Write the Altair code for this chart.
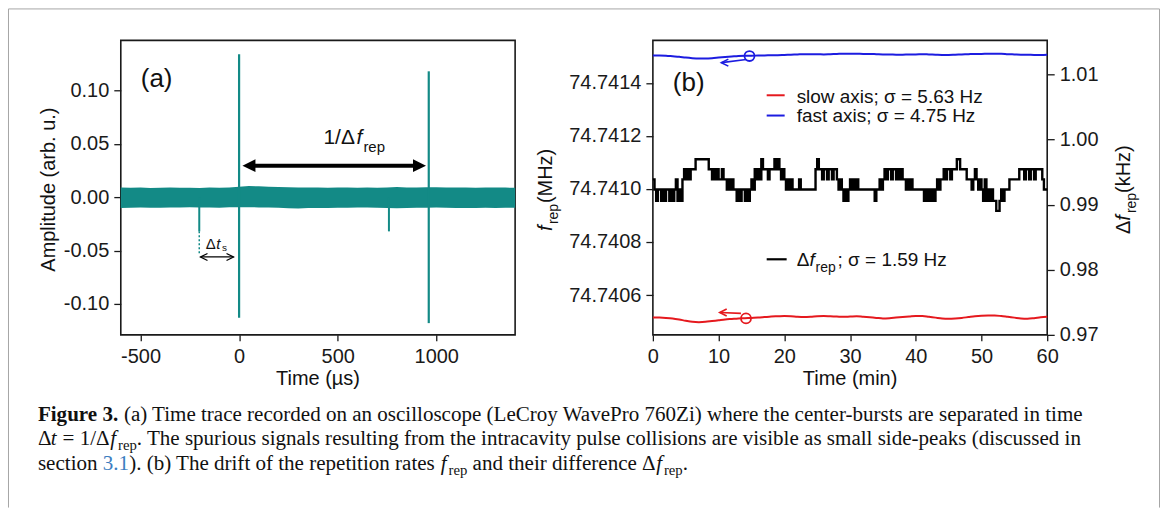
import altair as alt
import pandas as pd

# ---------------- panel (a): oscilloscope time trace ----------------
band_us = list(range(-600, 1401, 50))
band_upper = [0.0090, 0.0088, 0.0090, 0.0087, 0.0089, 0.0090, 0.0088, 0.0089, 0.0086, 0.0090,
              0.0089, 0.0091, 0.0098, 0.0105, 0.0102, 0.0097, 0.0095, 0.0093, 0.0090, 0.0092,
              0.0090, 0.0089, 0.0091, 0.0090, 0.0089, 0.0090, 0.0088, 0.0091, 0.0095, 0.0092,
              0.0090, 0.0093, 0.0094, 0.0092, 0.0090, 0.0091, 0.0089, 0.0090, 0.0091, 0.0090,
              0.0089]
band_lower = [-0.0100, -0.0098, -0.0097, -0.0099, -0.0098, -0.0097, -0.0096, -0.0095, -0.0097, -0.0096,
              -0.0098, -0.0095, -0.0094, -0.0093, -0.0096, -0.0097, -0.0099, -0.0104, -0.0106, -0.0102,
              -0.0100, -0.0101, -0.0099, -0.0098, -0.0097, -0.0096, -0.0099, -0.0101, -0.0103, -0.0100,
              -0.0099, -0.0098, -0.0097, -0.0098, -0.0100, -0.0102, -0.0101, -0.0099, -0.0100, -0.0098,
              -0.0099]
burst_us = [0, 962]
burst_high = [0.134, 0.118]
burst_low = [-0.113, -0.118]
side_us = [-202, 760]
side_low = [-0.032, -0.032]

xa_ticks = [-500, 0, 500, 1000]
ya_ticks = [-0.10, -0.05, 0.00, 0.05, 0.10]

# ---------------- panel (b): drift of repetition rates ----------------
minutes = list(range(0, 61))
fast_axis_mhz = [74.741503, 74.741503, 74.741502, 74.741500, 74.741498, 74.741495, 74.741493, 74.741492, 74.741492, 74.741493,
                 74.741495, 74.741497, 74.741499, 74.741501, 74.741502, 74.741502, 74.741503, 74.741503, 74.741504, 74.741504,
                 74.741505, 74.741506, 74.741507, 74.741508, 74.741508, 74.741508, 74.741507, 74.741508, 74.741509, 74.741510,
                 74.741510, 74.741510, 74.741509, 74.741509, 74.741508, 74.741507, 74.741507, 74.741506, 74.741506, 74.741507,
                 74.741507, 74.741508, 74.741507, 74.741506, 74.741505, 74.741505, 74.741506, 74.741507, 74.741508, 74.741509,
                 74.741509, 74.741510, 74.741510, 74.741510, 74.741508, 74.741507, 74.741506, 74.741506, 74.741505, 74.741505,
                 74.741506]
slow_axis_mhz = [74.740515, 74.740515, 74.740514, 74.740512, 74.740508, 74.740503, 74.740499, 74.740498, 74.740499, 74.740502,
                 74.740505, 74.740508, 74.740510, 74.740512, 74.740513, 74.740514, 74.740515, 74.740517, 74.740519, 74.740520,
                 74.740521, 74.740520, 74.740518, 74.740517, 74.740518, 74.740520, 74.740521, 74.740520, 74.740519, 74.740518,
                 74.740519, 74.740520, 74.740518, 74.740516, 74.740514, 74.740512, 74.740513, 74.740515, 74.740517, 74.740519,
                 74.740521, 74.740521, 74.740518, 74.740515, 74.740512, 74.740511, 74.740512, 74.740514, 74.740517, 74.740520,
                 74.740522, 74.740523, 74.740523, 74.740521, 74.740518, 74.740515, 74.740512, 74.740511, 74.740513, 74.740516,
                 74.740518]
# quantised Δf_rep readings (kHz), one level index every quarter minute
dfrep_levels_khz = [0.98905, 0.99060, 0.99235, 0.99390, 0.99545, 0.99700]
dfrep_level_idx = [
    3, 2, 1, 2,  2, 1, 2, 1,  2, 2, 1, 2,  1, 2, 3, 1,  2, 1, 3, 4,
    3, 4, 3, 4,  4, 4, 5, 5,  5, 5, 5, 5,  5, 5, 4, 4,  3, 4, 3, 4,
    3, 3, 4, 3,  3, 2, 3, 2,  3, 2, 2, 1,  2, 1, 2, 2,  1, 2, 1, 2,
    3, 2, 4, 3,  4, 3, 5, 4,  4, 4, 3, 4,  4, 4, 5, 4,  5, 4, 3, 4,
    3, 2, 3, 2,  3, 2, 2, 2,  2, 3, 2, 2,  2, 2, 2, 2,  2, 2, 2, 4,
    5, 4, 4, 3,  4, 4, 3, 4,  4, 3, 4, 4,  3, 2, 3, 2,  1, 2, 1, 2,
    3, 2, 3, 2,  3, 2, 2, 2,  2, 2, 2, 2,  2, 2, 2, 1,  2, 2, 3, 2,
    3, 4, 3, 4,  4, 3, 4, 4,  3, 4, 3, 4,  3, 3, 2, 3,  2, 3, 2, 2,
    2, 2, 2, 2,  2, 1, 2, 1,  2, 1, 2, 1,  2, 3, 2, 3,  3, 4, 3, 4,
    4, 3, 4, 4,  4, 5, 5, 4,  4, 4, 4, 3,  3, 3, 2, 3,  4, 3, 2, 3,
    2, 1, 3, 1,  2, 1, 2, 1,  1, 0, 0, 1,  2, 1, 2, 2,  2, 3, 3, 3,
    3, 3, 3, 4,  4, 4, 3, 4,  4, 3, 4, 4,  3, 4, 4, 4,  4, 3, 2, 2,
    2]
dfrep_minutes = [i * 0.25 for i in range(len(dfrep_level_idx))]

xb_ticks = [0, 10, 20, 30, 40, 50, 60]
yb_left_ticks = [74.7406, 74.7408, 74.7410, 74.7412, 74.7414]
yb_right_ticks = [0.97, 0.98, 0.99, 1.00, 1.01]

# ---------------- styling ----------------
SANS = "Liberation Sans"
SERIF = "Liberation Serif"
TEAL = "#138a86"
BLUE = "#1c1ce0"
RED = "#e5191e"
INK = "#111111"
W, H = 395, 295
one = pd.DataFrame({"k": [0]})


def txt(text, x, y, size=20, font=SANS, align="left", baseline="alphabetic", color=INK, **kw):
    return alt.Chart(one).mark_text(text=text, font=font, fontSize=size, align=align,
                                    baseline=baseline, color=color, **kw).encode(
        x=alt.value(x), y=alt.value(y))


def vrule(x, y, y2, color, width=1.0, **kw):
    return alt.Chart(one).mark_rule(color=color, strokeWidth=width, **kw).encode(
        x=alt.value(x), y=alt.value(y), y2=alt.value(y2))


def hrule(x, x2, y, color, width=1.0, **kw):
    return alt.Chart(one).mark_rule(color=color, strokeWidth=width, **kw).encode(
        x=alt.value(x), x2=alt.value(x2), y=alt.value(y))


MINUS = "replace(format(datum.value, '{f}'), '\u2212', '-')"

XA = alt.Scale(domain=[-600, 1400], nice=False, zero=False)
YA = alt.Scale(domain=[-0.129, 0.147], nice=False, zero=False)
AX_AX = alt.Axis(values=xa_ticks, title="", labelExpr=MINUS.format(f="d"))
AX_AY = alt.Axis(values=ya_ticks, title="", labelExpr=MINUS.format(f=".2f"))

df_band = pd.DataFrame({"us": band_us, "upper": band_upper, "lower": band_lower})
df_burst = pd.DataFrame({"us": burst_us, "high": burst_high, "low": burst_low})
df_side = pd.DataFrame({"us": side_us, "low": side_low})


def xa(v):
    return alt.XDatum(v, scale=XA, axis=AX_AX)


def ya(v):
    return alt.YDatum(v, scale=YA, axis=AX_AY)


band = alt.Chart(df_band).mark_area(color=TEAL, opacity=1).encode(
    x=alt.X("us:Q", scale=XA, axis=AX_AX),
    y=alt.Y("upper:Q", scale=YA, axis=AX_AY),
    y2="lower:Q")
bursts = alt.Chart(df_burst).mark_rule(color=TEAL, strokeWidth=2.2).encode(
    x=alt.X("us:Q", scale=XA, axis=AX_AX), y=alt.Y("high:Q", scale=YA, axis=AX_AY), y2="low:Q")
sides = alt.Chart(df_side).mark_rule(color=TEAL, strokeWidth=2.0).encode(
    x=alt.X("us:Q", scale=XA, axis=AX_AX), y=alt.Y("low:Q", scale=YA, axis=AX_AY), y2=alt.Y2Datum(0))
dashed = alt.Chart(one).mark_rule(color=TEAL, strokeWidth=1.5, strokeDash=[2, 2]).encode(
    x=xa(side_us[0]), y=ya(side_low[0]), y2=alt.Y2Datum(-0.053))

# small Δt_s double arrow
ts_shaft = alt.Chart(one).mark_rule(color="black", strokeWidth=1.3).encode(
    x=xa(-196), x2=alt.X2Datum(-28), y=ya(-0.056))
ts_left = alt.Chart(one).mark_point(shape="M1,-1L-1,0L1,1", filled=False, size=49, strokeWidth=1.3,
                                    color="black", opacity=1).encode(x=xa(-178), y=ya(-0.056))
ts_right = alt.Chart(one).mark_point(shape="M-1,-1L1,0L-1,1", filled=False, size=49, strokeWidth=1.3,
                                     color="black", opacity=1).encode(x=xa(-46), y=ya(-0.056))

# big 1/Δf_rep arrow
big_shaft = alt.Chart(one).mark_rule(color="black", strokeWidth=4).encode(
    x=xa(50), x2=alt.X2Datum(915), y=ya(0.0296))
big_left = alt.Chart(one).mark_point(shape="M-1,0L1,-1L1,1Z", filled=True, size=169,
                                     color="black", opacity=1).encode(x=xa(50), y=ya(0.0296))
big_right = alt.Chart(one).mark_point(shape="M1,0L-1,-1L-1,1Z", filled=True, size=169,
                                      color="black", opacity=1).encode(x=xa(915), y=ya(0.0296))

a_texts = [
    txt("(a)", 20, 47, size=26),
    txt("1/\u0394", 203, 104, size=21),
    txt("f", 236, 104, size=21, fontStyle="italic"),
    txt("rep", 243, 112, size=15),
    txt("\u0394", 85, 209, size=15),
    txt("t", 95.5, 209, size=15, fontStyle="italic"),
    txt("s", 101.5, 211, size=10),
    txt("Amplitude (arb. u.)", -72, 149.5, size=20, align="center", baseline="middle", angle=270),
    txt("Time (\u00b5s)", 197.5, 345, size=20, align="center"),
]

# ---------------- caption (absolute page positions, shifted to panel (a) origin) ----------------
OX, OY = 120, 39
TIMES = {" ": 250, "(": 333, ")": 333, ".": 250, ",": 250, "-": 333, "/": 278, "=": 564, ";": 278,
         "\u0394": 612}
for ch in "0123456789":
    TIMES[ch] = 500
TIMES.update(dict(zip("ABCDEFGHIJKLMNOPQRSTUVWXYZ",
                      [722, 667, 667, 722, 611, 556, 722, 722, 333, 389, 722, 611, 889, 722, 722, 556,
                       722, 667, 556, 611, 722, 722, 944, 722, 722, 611])))
TIMES.update(dict(zip("abcdefghijklmnopqrstuvwxyz",
                      [444, 500, 444, 500, 444, 333, 500, 500, 278, 278, 500, 278, 778, 500, 500, 500,
                       500, 333, 389, 278, 500, 500, 722, 500, 500, 444])))
TIMES_BOLD = {"F": 611, "i": 278, "g": 500, "u": 556, "r": 444, "e": 444, " ": 250, "3": 500, ".": 250}


def em(s, table=TIMES):
    return sum(table.get(c, 500) for c in s) / 1000


head = "Figure 3."
line1 = ("(a) Time trace recorded on an oscilloscope (LeCroy WavePro 760Zi) "
         "where the center-bursts are separated in time")
line2 = (". The spurious signals resulting from the intracavity pulse collisions are "
         "visible as small side-peaks (discussed in")
line3a = "). (b) The drift of the repetition rates"
line3b = "and their difference \u0394"
X0, XR = 37, 1088
BASE = [420, 444.5, 469]
FS = (XR - X0) / (em(head + " ", TIMES_BOLD) + em(line1))
SUB = 0.7 * FS
DROP = 5
F_ADV = 0.37

cap = []


def cpiece(text, x, y, **kw):
    cap.append(txt(text, x - OX, y - OY, font=SERIF, **kw))


cpiece(head, X0, BASE[0], size=FS, fontWeight="bold")
cpiece(line1, X0 + em(head + " ", TIMES_BOLD) * FS, BASE[0], size=FS)

x = X0
cpiece("\u0394", x, BASE[1], size=FS); x += em("\u0394") * FS
cpiece("t", x, BASE[1], size=FS, fontStyle="italic"); x += 0.278 * FS + 0.28 * FS
cpiece("= 1/\u0394", x, BASE[1], size=FS); x += em("= 1/\u0394") * FS + 0.06 * FS
cpiece("f", x, BASE[1], size=FS, fontStyle="italic"); x += F_ADV * FS
cpiece("rep", x, BASE[1] + DROP, size=SUB); x += em("rep") * SUB
cpiece(line2, x, BASE[1], size=FS)

x = X0
cpiece("section", x, BASE[2], size=FS); x += em("section ") * FS
cpiece("3.1", x, BASE[2], size=FS, color="#3b7dbf"); x += em("3.1") * FS
cpiece(line3a, x, BASE[2], size=FS); x += em(line3a + " ") * FS
cpiece("f", x, BASE[2], size=FS, fontStyle="italic"); x += F_ADV * FS
cpiece("rep", x, BASE[2] + DROP, size=SUB); x += em("rep") * SUB + 0.25 * FS
cpiece(line3b, x, BASE[2], size=FS); x += em(line3b) * FS + 0.03 * FS
cpiece("f", x, BASE[2], size=FS, fontStyle="italic"); x += F_ADV * FS
cpiece("rep", x, BASE[2] + DROP, size=SUB); x += em("rep") * SUB
cpiece(".", x, BASE[2], size=FS)

GRAY = "#a6a6a6"
border = [
    vrule(7.5 - OX, 7.5 - OY, 507 - OY, GRAY),
    hrule(7.5 - OX, 1160.5 - OX, 7.5 - OY, GRAY),
    vrule(1160.5 - OX, 7.5 - OY, 507 - OY, GRAY),
]

panel_a = alt.layer(band, bursts, sides, dashed, ts_shaft, ts_left, ts_right,
                    big_shaft, big_left, big_right, *a_texts, *cap, *border).properties(width=W, height=H)

# ---------------- panel (b) ----------------
XB = alt.Scale(domain=[0, 60], nice=False, zero=False)
YL = alt.Scale(domain=[74.74045, 74.74156], nice=False, zero=False)
YR = alt.Scale(domain=[0.97, 1.01526], nice=False, zero=False)
AX_BX = alt.Axis(values=xb_ticks, format="d", title="")
AX_BL = alt.Axis(values=yb_left_ticks, format=".4f", title="")
AX_BR = alt.Axis(orient="right", values=yb_right_ticks, format=".2f", title="")

df_rates = pd.DataFrame({"minute": minutes, "fast": fast_axis_mhz, "slow": slow_axis_mhz})
df_dfrep = pd.DataFrame({"minute": dfrep_minutes,
                         "khz": [dfrep_levels_khz[i] for i in dfrep_level_idx]})


def xb(v):
    return alt.XDatum(v, scale=XB, axis=AX_BX)


def yl(v):
    return alt.YDatum(v, scale=YL, axis=AX_BL)


fast_line = alt.Chart(df_rates).mark_line(color=BLUE, strokeWidth=2, interpolate="monotone").encode(
    x=alt.X("minute:Q", scale=XB, axis=AX_BX),
    y=alt.Y("fast:Q", scale=YL, axis=AX_BL))
slow_line = alt.Chart(df_rates).mark_line(color=RED, strokeWidth=2, interpolate="monotone").encode(
    x=alt.X("minute:Q", scale=XB, axis=AX_BX),
    y=alt.Y("slow:Q", scale=YL, axis=AX_BL))


def circle(t, v, color):
    return alt.Chart(one).mark_point(shape="circle", filled=False, size=100, strokeWidth=1.8,
                                     color=color, opacity=1).encode(x=xb(t), y=yl(v))


def shaft(t1, t2, v1, v2, color):
    return alt.Chart(one).mark_rule(color=color, strokeWidth=1.6).encode(
        x=xb(t1), x2=alt.X2Datum(t2), y=yl(v1), y2=alt.Y2Datum(v2))


def head_left(t, v, color):
    return alt.Chart(one).mark_point(shape="M1,-1L-1,0L1,1", filled=False, size=49, strokeWidth=1.6,
                                     color=color, opacity=1).encode(x=xb(t), y=yl(v))


b_marks = [
    circle(14.7, 74.741501, BLUE),
    shaft(10.45, 14.2, 74.741476, 74.741488, BLUE),
    head_left(10.95, 74.741476, BLUE),
    circle(14.17, 74.740512, RED),
    shaft(10.2, 13.4, 74.740534, 74.740531, RED),
    head_left(10.7, 74.740534, RED),
]

b_texts = [
    txt("(b)", 20, 51, size=26),
    hrule(114, 132, 55, RED, 2),
    txt("slow axis; \u03c3 = 5.63 Hz", 144, 63, size=19),
    hrule(114, 132, 75.3, BLUE, 2),
    txt("fast axis; \u03c3 = 4.75 Hz", 144, 82, size=19),
    hrule(114, 134, 219.3, "black", 2.2),
    txt("\u0394", 144, 226, size=19),
    txt("f", 157, 226, size=19, fontStyle="italic"),
    txt("rep", 163, 232.5, size=14),
    txt("; \u03c3 = 1.59 Hz", 185, 226, size=19),
    txt("Time (min)", 197.5, 345, size=20, align="center"),
    # left axis title  f_rep(MHz)
    txt("f", -101, 191, size=20, fontStyle="italic", angle=270),
    txt("rep", -95.5, 184, size=14, angle=270),
    txt("(MHz)", -101, 163, size=20, angle=270),
    # right axis title  Δf_rep(kHz)
    txt("\u0394", 478, 194, size=20, angle=270),
    txt("f", 478, 180.6, size=20, fontStyle="italic", angle=270),
    txt("rep", 483.5, 173, size=14, angle=270),
    txt("(kHz)", 478, 152.8, size=20, angle=270),
]

left_group = alt.layer(fast_line, slow_line, *b_marks, *b_texts)

dfrep_line = alt.Chart(df_dfrep).mark_line(color="black", strokeWidth=2.4, interpolate="step-after").encode(
    x=alt.X("minute:Q", scale=XB, axis=AX_BX),
    y=alt.Y("khz:Q", scale=YR, axis=AX_BR))

panel_b = alt.layer(left_group, dfrep_line).resolve_scale(y="independent").properties(width=W, height=H)

chart = alt.hconcat(panel_a, panel_b, spacing=138, bounds="flush").properties(
    padding={"left": 7, "top": 7, "right": 5, "bottom": 0},
    background="white",
).configure_view(
    stroke="#1a1a1a", strokeWidth=1.6
).configure_axis(
    domain=False, grid=False, ticks=True, tickColor="#1a1a1a", tickWidth=1.3, tickSize=7,
    labelFont=SANS, labelFontSize=20, labelColor="#1a1a1a", labelPadding=5,
    labelFlush=False, labelOverlap=False
).configure_axisX(tickSize=6, labelPadding=6)

chart.save("out.html", embed_options={"renderer": "svg", "actions": False})
